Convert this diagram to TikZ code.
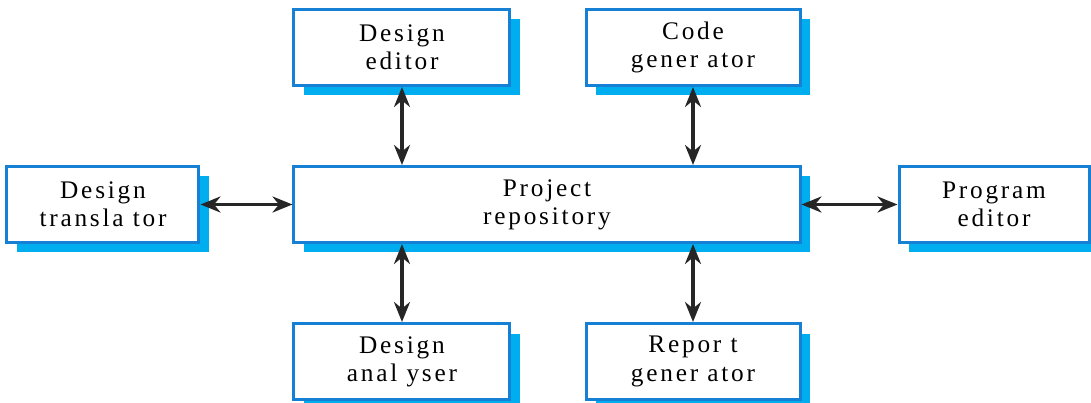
\documentclass[tikz,border=0pt]{standalone}
\usepackage{fontspec}
\newfontfamily\boxfont[LetterSpace=11]{Liberation Serif}
\usetikzlibrary{positioning, arrows.meta, shadows}
\definecolor{toolblue}{HTML}{1580D4}
\definecolor{shadowcyan}{HTML}{00AEEF}
\tikzstyle{tool} = [rectangle, minimum height=1.9cm, text centered, align=center, draw=toolblue, line width=0.075cm, fill=white, font=\boxfont\fontsize{18}{20}\selectfont, drop shadow={shadow xshift=0.25cm, shadow yshift=-0.25cm, fill=shadowcyan, opacity=1}]
\tikzstyle{link} = [line width=0.09cm, draw=black!85, {Stealth[length=5mm,width=4mm]}-{Stealth[length=5mm,width=4mm]}]

\begin{document}
\begin{tikzpicture}
        \useasboundingbox (-13.675,5.1125) rectangle (13.6,-4.9625);

        \node (repository) [tool, minimum width=12.65cm] {Project\\repository};
        \node (designeditor) [tool, minimum width=5.4cm, above=1.95cm of repository.north west, anchor=south west] {Design\\editor};
        \node (codegenerator) [tool, minimum width=5.35cm, above=1.95cm of repository.north east, anchor=south east] {Code\\gener ator};
        \node (designanalyser) [tool, minimum width=5.4cm, below=1.95cm of repository.south west, anchor=north west] {Design\\anal yser};
        \node (reportgenerator) [tool, minimum width=5.35cm, below=1.95cm of repository.south east, anchor=north east] {Repor t\\gener ator};
        \node (translator) [tool, minimum width=4.8cm, left=2.3cm of repository] {Design\\transla tor};
        \node (programeditor) [tool, minimum width=4.75cm, right=2.4cm of repository] {Program\\editor};

        \draw [link] (designeditor) -- (designeditor |- repository.north);
        \draw [link] (codegenerator) -- (codegenerator |- repository.north);
        \draw [link] (designanalyser) -- (designanalyser |- repository.south);
        \draw [link] (reportgenerator) -- (reportgenerator |- repository.south);
        \draw [link] (translator) -- (repository);
        \draw [link] (repository) -- (programeditor);

\end{tikzpicture}
\end{document}
